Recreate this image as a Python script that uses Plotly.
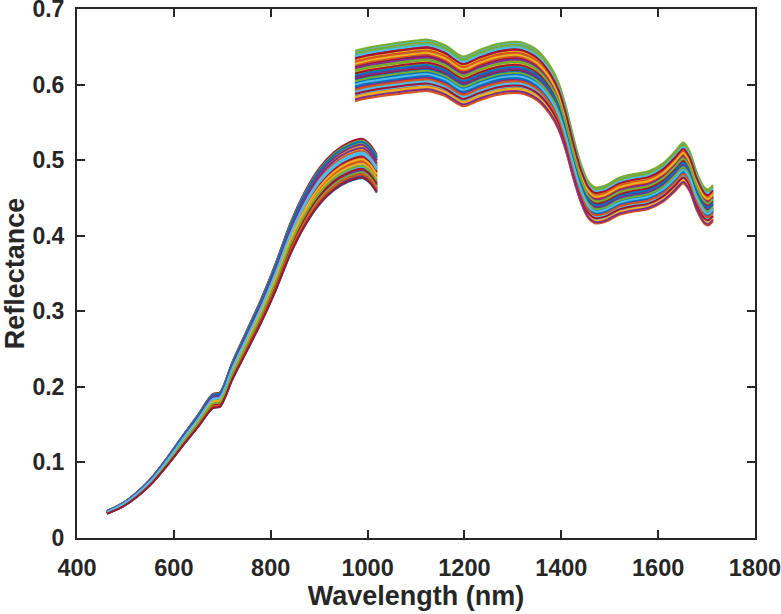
import plotly.graph_objects as go

# Segment 1 (VIS-NIR detector): wavelength (nm) and median reflectance
wl_vis = [462, 500, 550, 585, 620, 650, 680, 695, 705, 720, 750, 780, 810, 840,
          870, 900, 930, 960, 990, 1005, 1019]
refl_vis = [0.034, 0.046, 0.073, 0.100, 0.130, 0.155, 0.181, 0.183, 0.195, 0.220,
            0.260, 0.300, 0.345, 0.395, 0.435, 0.465, 0.485, 0.497, 0.502, 0.495, 0.482]

# Segment 2 (SWIR detector)
wl_swir = [974, 1000, 1050, 1100, 1125, 1160, 1197, 1230, 1270, 1315, 1350, 1377,
           1395, 1410, 1424, 1440, 1455, 1470, 1490, 1520, 1545, 1580, 1610, 1635,
           1652, 1665, 1680, 1695, 1703, 1713]
refl_swir = [0.611, 0.615, 0.620, 0.624, 0.625, 0.618, 0.604, 0.612, 0.620, 0.622,
             0.612, 0.592, 0.570, 0.540, 0.505, 0.470, 0.448, 0.440, 0.442, 0.452,
             0.456, 0.460, 0.470, 0.485, 0.496, 0.485, 0.458, 0.440, 0.437, 0.443]

# Per-sample relative level of each spectrum (sample / median)
sample_vis = [1.012, 0.968, 1.031, 0.954, 1.046, 0.991, 1.004, 0.962, 1.027, 0.983,
              1.049, 0.957, 1.018, 0.975, 1.038, 0.996, 0.951, 1.022, 0.972, 1.009,
              1.043, 0.965, 0.988, 1.034, 0.959, 1.015, 0.979, 1.052, 0.948, 1.001,
              1.025, 0.969, 1.040, 0.985, 0.955, 1.013, 0.993, 1.030, 0.961, 1.047,
              0.977, 1.006, 0.952, 1.020, 0.986, 1.036, 0.964, 1.011, 0.973, 1.044,
              0.958, 0.998, 1.028, 0.981, 1.016, 0.950]
sample_swir = [0.987, 1.033, 0.956, 1.021, 0.969, 1.047, 0.994, 1.010, 0.952, 1.039,
               0.976, 1.003, 1.052, 0.961, 1.026, 0.983, 0.949, 1.015, 1.044, 0.972,
               0.998, 1.029, 0.958, 1.008, 0.980, 1.055, 0.965, 1.019, 0.991, 0.946,
               1.036, 0.974, 1.012, 0.960, 1.041, 0.985, 1.024, 0.953, 0.997, 1.049,
               0.967, 1.006, 0.978, 1.031, 0.955, 1.017, 0.989, 1.043, 0.962, 1.001,
               0.971, 1.027, 0.950, 1.013, 0.982, 1.038]

x_ticks = [400, 600, 800, 1000, 1200, 1400, 1600, 1800]
y_ticks = [0, 0.1, 0.2, 0.3, 0.4, 0.5, 0.6, 0.7]
y_labels = ["0", "0.1", "0.2", "0.3", "0.4", "0.5", "0.6", "0.7"]

colors = ["#0072BD", "#D95319", "#EDB120", "#7E2F8E", "#77AC30", "#4DBEEE", "#A2142F"]

fig = go.Figure()
for i, s in enumerate(sample_vis):
    fig.add_trace(go.Scatter(x=wl_vis, y=[v * s for v in refl_vis], mode="lines",
                             line=dict(color=colors[i % 7], width=2, shape="spline", smoothing=0.8),
                             showlegend=False, hoverinfo="skip"))
for i, s in enumerate(sample_swir):
    fig.add_trace(go.Scatter(x=wl_swir, y=[v * s for v in refl_swir], mode="lines",
                             line=dict(color=colors[i % 7], width=2, shape="spline", smoothing=0.8),
                             showlegend=False, hoverinfo="skip"))

axcol = "#262626"
font = dict(family="Liberation Sans, Arial, sans-serif", color=axcol)
fig.update_layout(
    width=781, height=614,
    margin=dict(l=77, r=26, t=9, b=76),
    paper_bgcolor="white", plot_bgcolor="white",
    font=font,
    xaxis=dict(range=[400, 1800], tickvals=x_ticks,
               ticktext=["<b>%d</b>" % v for v in x_ticks],
               ticks="inside", ticklen=8, tickwidth=2, tickcolor=axcol,
               showline=True, linewidth=2, linecolor=axcol, mirror="ticks",
               showgrid=False, zeroline=False, tickfont=dict(size=23.5),
               ticklabelstandoff=8, ticklabeloverflow="allow", automargin=False,
               title=dict(text="<b>Wavelength (nm)</b>", font=dict(size=27), standoff=2)),
    yaxis=dict(range=[0, 0.7], tickvals=y_ticks,
               ticktext=["<b>%s</b>" % t for t in y_labels],
               ticks="inside", ticklen=8, tickwidth=2, tickcolor=axcol,
               showline=True, linewidth=2, linecolor=axcol, mirror="ticks",
               showgrid=False, zeroline=False, tickfont=dict(size=23),
               ticklabelstandoff=6, ticklabeloverflow="allow", automargin=False,
               title=dict(text="<b>Reflectance</b>", font=dict(size=27), standoff=6)),
)
fig.write_html("out.html")
